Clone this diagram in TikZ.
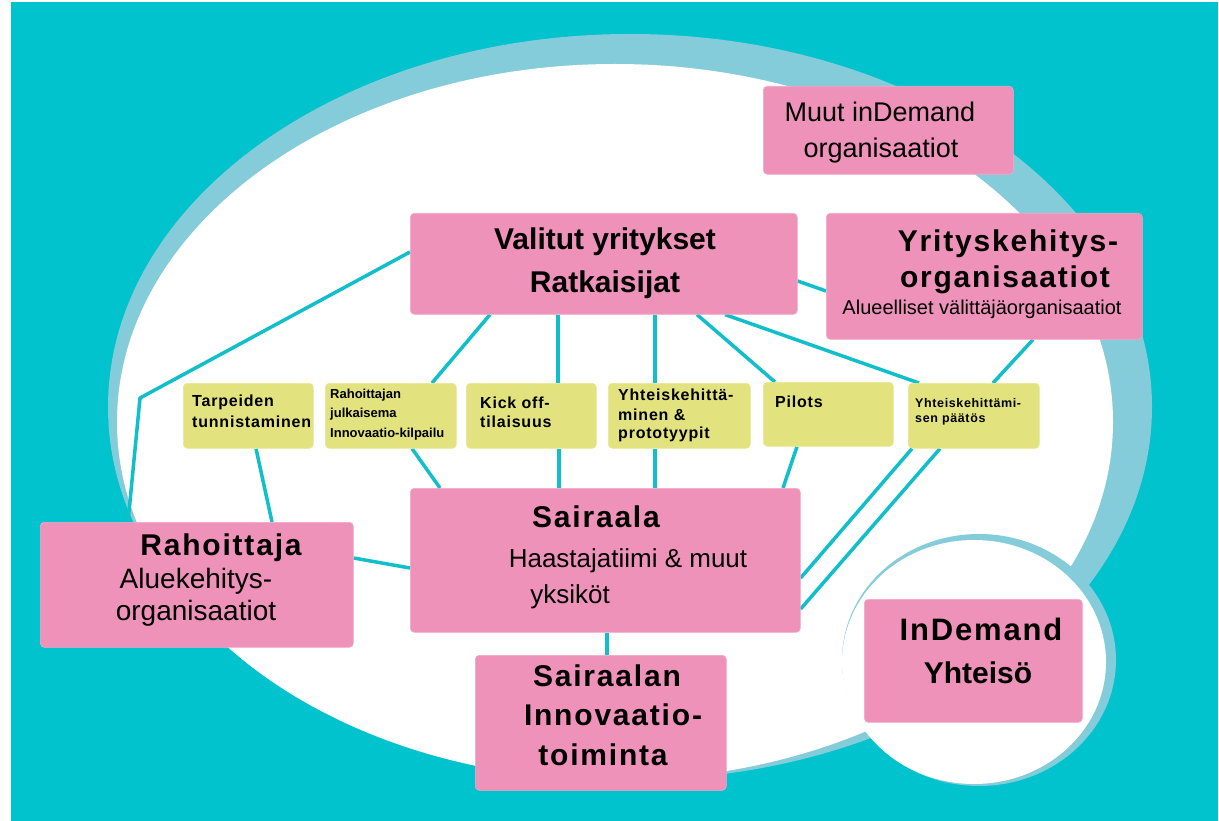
\documentclass[tikz,border=0pt]{standalone}
\usepackage{fontspec}
\setmainfont{Liberation Sans}
\newfontfamily\ttlfont{Liberation Sans}[LetterSpace=6]
\newfontfamily\ylwfont{Liberation Sans}[LetterSpace=5]
\newcommand\fsz[1]{\fontsize{#1}{#1}\selectfont}
\definecolor{bgteal}{RGB}{0,195,205}
\definecolor{ringblue}{RGB}{132,204,217}
\definecolor{pinkbox}{RGB}{239,146,186}
\definecolor{yellowbox}{RGB}{226,226,126}
\definecolor{linkteal}{RGB}{16,191,201}
\pgfdeclarelayer{back}
\pgfsetlayers{back,main}
\tikzset{
  pbox/.style={fill=pinkbox, draw=pinkbox!80!white, line width=0.6pt, rounded corners=4pt, anchor=north west, inner sep=0pt},
  ybox/.style={fill=yellowbox, draw=yellowbox!80!white, line width=0.6pt, rounded corners=4pt, anchor=north west, inner sep=0pt},
  link/.style={draw=linkteal, line width=3.5pt},
  ctxt/.style={inner sep=0pt, anchor=base, text=black},
  ltxt/.style={inner sep=0pt, anchor=base west, text=black},
}
\begin{document}
\begin{tikzpicture}[x=1pt,y=-1pt]
\useasboundingbox (0,0) rectangle (1219,821);

% boxes (shapes)
\node[pbox, minimum width=250pt, minimum height=88pt] (muut) at (763,86) {};
\node[pbox, minimum width=387pt, minimum height=101pt] (val) at (410,213) {};
\node[pbox, minimum width=316pt, minimum height=126pt] (yri) at (826,213) {};
\node[pbox, minimum width=313pt, minimum height=125pt] (rah) at (40,522) {};
\node[pbox, minimum width=390pt, minimum height=144pt] (sai) at (410,488) {};
\node[pbox, minimum width=251pt, minimum height=135pt] (inn) at (475,655) {};
\node[pbox, minimum width=218pt, minimum height=123pt] (ind) at (864,599) {};
\node[ybox, minimum width=130pt, minimum height=65pt] (tarp) at (183,383) {};
\node[ybox, minimum width=131pt, minimum height=65pt] (rjul) at (325,383) {};
\node[ybox, minimum width=130pt, minimum height=65pt] (kick) at (466,383) {};
\node[ybox, minimum width=142pt, minimum height=65pt] (yhp) at (608,383) {};
\node[ybox, minimum width=130pt, minimum height=64pt] (pil) at (763,382) {};
\node[ybox, minimum width=131pt, minimum height=65pt] (yhpa) at (908,383) {};

\begin{pgfonlayer}{back}
% background
\fill[white] (0,0) rectangle (1219,821);
\fill[bgteal] (11,2) rectangle (1218,821);
\fill[ringblue] (630,407) ellipse [x radius=522, y radius=373];
\fill[white] (615,422) ellipse [x radius=498, y radius=358];
\fill[ringblue] (979,660) ellipse [x radius=137, y radius=126];
\fill[white] (974,662) ellipse [x radius=132, y radius=122];

% connectors
\coordinate (bend) at (140,398);
\draw[link, line join=round] ([yshift=-39pt]val.north west) -- (bend) -- ([xshift=88pt]rah.north west);
\draw[link] ([xshift=73pt]tarp.south west) -- ([xshift=232pt]rah.north west);
\draw[link] ([yshift=-36pt]rah.north east) -- ([yshift=-80pt]sai.north west);
\draw[link] ([xshift=80pt]val.south west) -- ([xshift=107pt]rjul.north west);
\draw[link] ([xshift=87pt]rjul.south west) -- ([xshift=30pt]sai.north west);
\draw[link] ([xshift=148pt]val.south west) -- ([xshift=92pt]kick.north west);
\draw[link] ([xshift=93pt]kick.south west) -- ([xshift=149pt]sai.north west);
\draw[link] ([xshift=245pt]val.south west) -- ([xshift=47pt]yhp.north west);
\draw[link] ([xshift=47pt]yhp.south west) -- ([xshift=245pt]sai.north west);
\draw[link] ([xshift=287pt]val.south west) -- ([xshift=12pt]pil.north west);
\draw[link] ([xshift=315pt]val.south west) -- ([xshift=11pt]yhpa.north west);
\draw[link] ([xshift=34pt]pil.south west) -- ([xshift=373pt]sai.north west);
\draw[link] ([xshift=4pt]yhpa.south west) -- ([yshift=-90pt]sai.north east);
\draw[link] ([xshift=32pt]yhpa.south west) -- ([yshift=-121pt]sai.north east);
\draw[link] ([xshift=207pt]yri.south west) -- ([xshift=85pt]yhpa.north west);
\draw[link] ([yshift=-68pt]val.north east) -- ([yshift=-78pt]yri.north west);
\draw[link] ([xshift=197pt]sai.south west) -- ([xshift=132pt]inn.north west);
\end{pgfonlayer}

% texts
\node[ctxt, font=\fsz{27}] (muut1) at (880,122) {Muut inDemand};
\node[ctxt, font=\fsz{27}] (muut2) at (881,158) {organisaatiot};

\node[ctxt, font=\fsz{30}\bfseries] (val1) at (605,250) {Valitut yritykset};
\node[ctxt, font=\fsz{30}\bfseries] (val2) at (605,293) {Ratkaisijat};

\node[ctxt, font=\ttlfont\fsz{30}\bfseries] (yri1) at (1008,252) {Yrityskehitys-};
\node[ctxt, font=\ttlfont\fsz{30}\bfseries] (yri2) at (1005,288) {organisaatiot};
\node[ctxt, font=\fsz{20}] (yri3) at (982,315) {Alueelliset välittäjäorganisaatiot};

\node[ctxt, font=\ttlfont\fsz{30}\bfseries] (rah1) at (221,555) {Rahoittaja};
\node[ctxt, font=\fsz{28}] (rah2) at (196,588) {Aluekehitys-};
\node[ctxt, font=\fsz{28}] (rah3) at (196,620) {organisaatiot};

\node[ctxt, font=\ttlfont\fsz{30}\bfseries] (sai1) at (596,527) {Sairaala};
\node[ctxt, font=\fsz{26}] (sai2) at (628,567) {Haastajatiimi \& muut};
\node[ctxt, font=\fsz{26}] (sai3) at (570,603) {yksiköt};

\node[ctxt, font=\ttlfont\fsz{30}\bfseries] (inn1) at (607,686) {Sairaalan};
\node[ctxt, font=\ttlfont\fsz{30}\bfseries] (inn2) at (613,725) {Innovaatio-};
\node[ctxt, font=\ttlfont\fsz{30}\bfseries] (inn3) at (603,765) {toiminta};

\node[ctxt, font=\ttlfont\fsz{31}\bfseries] (ind1) at (981,640) {InDemand};
\node[ctxt, font=\fsz{30}\bfseries] (ind2) at (978,683) {Yhteisö};

\node[ltxt, font=\ylwfont\fsz{16}\bfseries] (tarp1) at (192,406) {Tarpeiden};
\node[ltxt, font=\ylwfont\fsz{16}\bfseries] (tarp2) at (192,427) {tunnistaminen};

\node[ltxt, font=\fsz{13}\bfseries] (rjul1) at (330,398) {Rahoittajan};
\node[ltxt, font=\fsz{13}\bfseries] (rjul2) at (330,417) {julkaisema};
\node[ltxt, font=\fsz{13}\bfseries] (rjul3) at (330,437) {Innovaatio-kilpailu};

\node[ltxt, font=\ylwfont\fsz{16}\bfseries] (kick1) at (480,408) {Kick off-};
\node[ltxt, font=\ylwfont\fsz{16}\bfseries] (kick2) at (480,427) {tilaisuus};

\node[ltxt, font=\ylwfont\fsz{16}\bfseries] (yhp1) at (618,400) {Yhteiskehittä-};
\node[ltxt, font=\ylwfont\fsz{16}\bfseries] (yhp2) at (618,420) {minen \&};
\node[ltxt, font=\ylwfont\fsz{16}\bfseries] (yhp3) at (618,438) {prototyypit};

\node[ltxt, font=\ylwfont\fsz{16}\bfseries] (pil1) at (775,407) {Pilots};

\node[ltxt, font=\ylwfont\fsz{12.5}\bfseries] (yhpa1) at (915,407) {Yhteiskehittämi-};
\node[ltxt, font=\ylwfont\fsz{12.5}\bfseries] (yhpa2) at (915,422) {sen päätös};
\end{tikzpicture}
\end{document}
